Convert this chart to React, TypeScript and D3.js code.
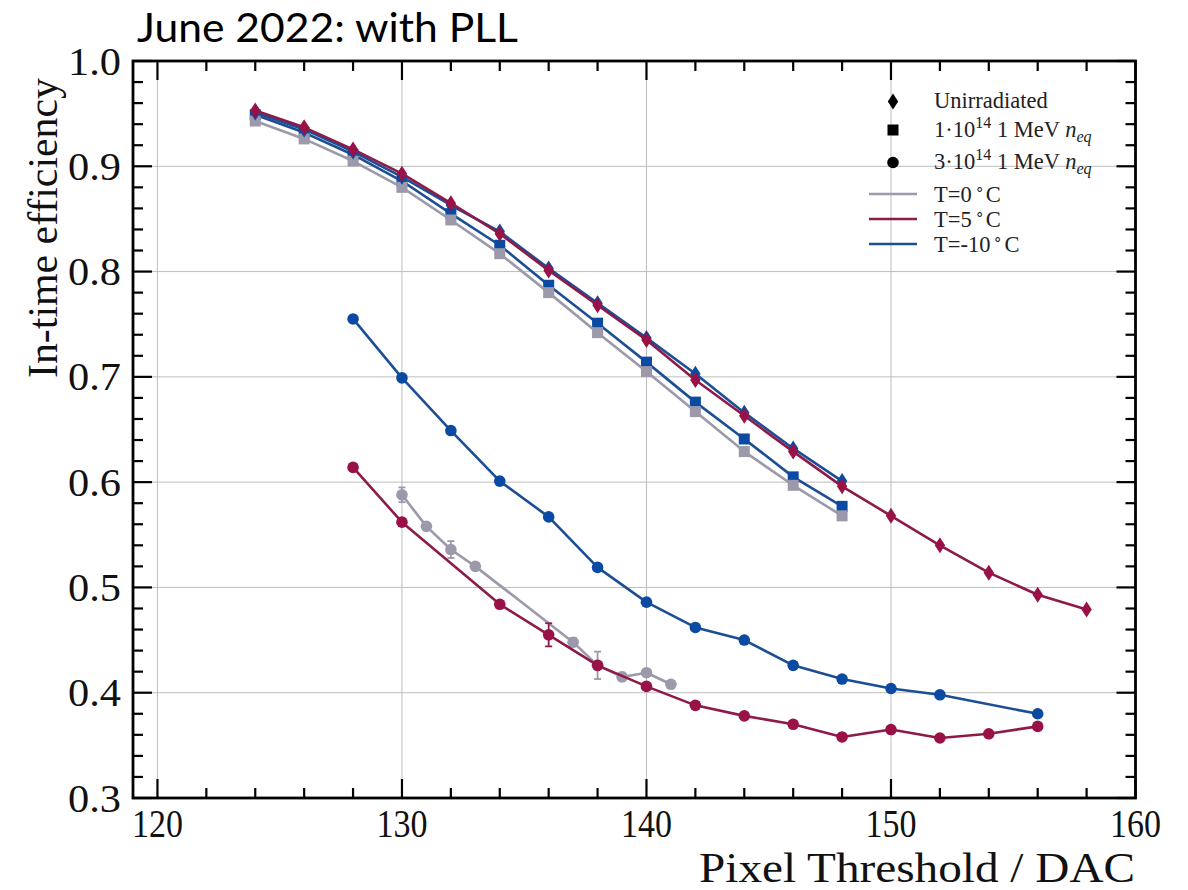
import React from "react";
import * as d3 from "d3";

const W = 1188;
const H = 890;

// ---- data ----
// Unirradiated (diamonds)
const unirr5X = [124, 126, 128, 130, 132, 134, 136, 138, 140, 142, 144, 146, 148, 150, 152, 154, 156, 158];
const unirr5Y = [0.953, 0.937, 0.916, 0.893, 0.865, 0.836, 0.801, 0.768, 0.735, 0.697, 0.663, 0.629, 0.596, 0.568, 0.540, 0.514, 0.493, 0.479];
const unirrM10X = [124, 126, 128, 130, 132, 134, 136, 138, 140, 142, 144, 146, 148];
const unirrM10Y = [0.951, 0.935, 0.914, 0.890, 0.863, 0.838, 0.803, 0.770, 0.737, 0.703, 0.666, 0.632, 0.601];

// 1e14 (squares)
const sqX = [124, 126, 128, 130, 132, 134, 136, 138, 140, 142, 144, 146, 148];
const sq0Y = [0.943, 0.926, 0.905, 0.880, 0.849, 0.817, 0.780, 0.742, 0.705, 0.667, 0.629, 0.597, 0.568];
const sqM10Y = [0.949, 0.932, 0.911, 0.886, 0.855, 0.825, 0.787, 0.751, 0.714, 0.676, 0.641, 0.605, 0.577];

// 3e14 (circles)
const c0X = [130, 131, 132, 133, 137, 138, 139, 140, 141];
const c0Y = [0.588, 0.558, 0.536, 0.520, 0.448, 0.426, 0.415, 0.419, 0.408];
const c0Err = [0.007, 0.002, 0.008, 0.002, 0.004, 0.013, 0.004, 0.002, 0.002];
const c5X = [128, 130, 134, 136, 138, 140, 142, 144, 146, 148, 150, 152, 154, 156];
const c5Y = [0.614, 0.562, 0.484, 0.455, 0.426, 0.406, 0.388, 0.378, 0.370, 0.358, 0.365, 0.357, 0.361, 0.368];
const c5Err = [0.002, 0.002, 0.002, 0.011, 0.002, 0.002, 0.001, 0.001, 0.001, 0.001, 0.001, 0.001, 0.001, 0.001];
const cM10X = [128, 130, 132, 134, 136, 138, 140, 142, 144, 146, 148, 150, 152, 156];
const cM10Y = [0.755, 0.699, 0.649, 0.601, 0.567, 0.519, 0.486, 0.462, 0.450, 0.426, 0.413, 0.404, 0.398, 0.380];

const xTicks = [120, 130, 140, 150, 160];
const yTicks = [0.3, 0.4, 0.5, 0.6, 0.7, 0.8, 0.9, 1.0];

const GRAY = "#9b99aa";
const RED = "#8e1a4a";
const RED_M = "#981247";
const BLUE = "#1b4e94";
const BLUE_M = "#0b4aa2";

const x = d3.scaleLinear().domain([119, 160]).range([133, 1135.5]);
const y = d3.scaleLinear().domain([0.3, 1.0]).range([798, 61]);

type Marker = "diamond" | "square" | "circle";

function MarkerShape({ kind, cx, cy, fill }: { kind: Marker; cx: number; cy: number; fill: string }) {
  if (kind === "circle") return <circle cx={cx} cy={cy} r={5.8} fill={fill} />;
  if (kind === "square") return <rect x={cx - 5.5} y={cy - 5.5} width={11} height={11} fill={fill} />;
  return <path d={`M${cx},${cy - 8} L${cx + 5.2},${cy} L${cx},${cy + 8} L${cx - 5.2},${cy} Z`} fill={fill} />;
}

function Series({ xs, ys, errs, kind, line, mark }: { xs: number[]; ys: number[]; errs?: number[]; kind: Marker; line: string; mark: string }) {
  const pts = xs.map((xv, i) => [xv, ys[i]] as [number, number]);
  const gen = d3.line<[number, number]>().x((d) => x(d[0])).y((d) => y(d[1]));
  return (
    <g>
      <path d={gen(pts) || ""} fill="none" stroke={line} strokeWidth={2.6} strokeLinejoin="round" />
      {errs &&
        pts.map((p, i) =>
          errs[i] > 0.003 ? (
            <g key={"e" + i} stroke={line} strokeWidth={1.8}>
              <line x1={x(p[0])} x2={x(p[0])} y1={y(p[1] - errs[i])} y2={y(p[1] + errs[i])} />
              <line x1={x(p[0]) - 3.5} x2={x(p[0]) + 3.5} y1={y(p[1] - errs[i])} y2={y(p[1] - errs[i])} />
              <line x1={x(p[0]) - 3.5} x2={x(p[0]) + 3.5} y1={y(p[1] + errs[i])} y2={y(p[1] + errs[i])} />
            </g>
          ) : null
        )}
      {pts.map((p, i) => (
        <MarkerShape key={i} kind={kind} cx={x(p[0])} cy={y(p[1])} fill={mark} />
      ))}
    </g>
  );
}

export default function App() {
  const [x0, x1] = x.range();
  const [y0, y1] = y.range();
  const xMinor = d3.range(120, 160.01, 2);
  const yMinor = d3.range(0.3, 1.0001, 0.02);
  const serif = "'Liberation Serif', 'Times New Roman', serif";
  const legX = 893;
  const legTX = 934;
  const legendText = { fontFamily: serif, fontSize: 22.5, fill: "#222" };
  return (
    <svg width={W} height={H} style={{ position: "absolute", left: 0, top: 0, background: "#fff" }}>
      <rect width={W} height={H} fill="#fff" />
      {/* grid */}
      <g stroke="#bdbdbd" strokeWidth={1}>
        {xTicks.map((t) => (
          <line key={"gx" + t} x1={x(t)} x2={x(t)} y1={y1} y2={y0} />
        ))}
        {yTicks.map((t) => (
          <line key={"gy" + t} x1={x0} x2={x1} y1={y(t)} y2={y(t)} />
        ))}
      </g>

      {/* series */}
      <Series xs={c0X} ys={c0Y} errs={c0Err} kind="circle" line={GRAY} mark={GRAY} />
      <Series xs={c5X} ys={c5Y} errs={c5Err} kind="circle" line={RED} mark={RED_M} />
      <Series xs={cM10X} ys={cM10Y} kind="circle" line={BLUE} mark={BLUE_M} />
      <Series xs={sqX} ys={sqM10Y} kind="square" line={BLUE} mark={BLUE_M} />
      <Series xs={sqX} ys={sq0Y} kind="square" line={GRAY} mark={GRAY} />
      <Series xs={unirrM10X} ys={unirrM10Y} kind="diamond" line={BLUE} mark={BLUE_M} />
      <Series xs={unirr5X} ys={unirr5Y} kind="diamond" line={RED} mark={RED_M} />

      {/* ticks */}
      <g stroke="#000" strokeWidth={2.2}>
        {xMinor.map((t) => {
          const major = xTicks.some((m) => Math.abs(m - t) < 1e-6);
          const L = major ? 19 : 10;
          return (
            <g key={"tx" + t}>
              <line x1={x(t)} x2={x(t)} y1={y0} y2={y0 - L} />
              <line x1={x(t)} x2={x(t)} y1={y1} y2={y1 + L} />
            </g>
          );
        })}
        {yMinor.map((t) => {
          const major = yTicks.some((m) => Math.abs(m - t) < 1e-6);
          const L = major ? 19 : 10;
          return (
            <g key={"ty" + t.toFixed(2)}>
              <line x1={x0} x2={x0 + L} y1={y(t)} y2={y(t)} />
              <line x1={x1} x2={x1 - L} y1={y(t)} y2={y(t)} />
            </g>
          );
        })}
      </g>
      <rect x={x0} y={y1} width={x1 - x0} height={y0 - y1} fill="none" stroke="#000" strokeWidth={2.8} />

      {/* tick labels */}
      <g fontFamily={serif} fontSize={40} fill="#111">
        {xTicks.map((t) => (
          <text key={"lx" + t} x={x(t)} y={837} textAnchor="middle" textLength={51} lengthAdjust="spacingAndGlyphs">
            {t}
          </text>
        ))}
        {yTicks.map((t) => (
          <text key={"ly" + t} x={121} y={y(t)} dy="0.34em" textAnchor="end" textLength={53} lengthAdjust="spacingAndGlyphs">
            {t.toFixed(1)}
          </text>
        ))}
      </g>

      {/* axis labels */}
      <text x={1135} y={882} textAnchor="end" fontFamily={serif} fontSize={42} fill="#111" textLength={436} lengthAdjust="spacingAndGlyphs">
        Pixel Threshold / DAC
      </text>
      <text
        transform="translate(57,228) rotate(-90)"
        textAnchor="middle"
        fontFamily={serif}
        fontSize={42}
        fill="#111"
        textLength={300}
        lengthAdjust="spacingAndGlyphs"
      >
        In-time efficiency
      </text>

      {/* title */}
      <text x={137} y={42} fontFamily="Lato, 'Open Sans', sans-serif" fontSize={40} fill="#000" textLength={381} lengthAdjust="spacingAndGlyphs">
        June 2022: with PLL
      </text>

      {/* legend */}
      <g>
        <MarkerShape kind="diamond" cx={legX} cy={101.5} fill="#000" />
        <MarkerShape kind="square" cx={legX} cy={130} fill="#000" />
        <MarkerShape kind="circle" cx={legX} cy={162.5} fill="#000" />
        <line x1={869} x2={917} y1={194} y2={194} stroke={GRAY} strokeWidth={2.6} />
        <line x1={869} x2={917} y1={219} y2={219} stroke={RED} strokeWidth={2.6} />
        <line x1={869} x2={917} y1={244} y2={244} stroke={BLUE} strokeWidth={2.6} />
        <text x={legTX} y={108} {...legendText}>Unirradiated</text>
        <text x={legTX} y={137} {...legendText}>
          1·10<tspan fontSize={16} dy={-9}>14</tspan>
          <tspan dy={9}> 1 MeV </tspan>
          <tspan fontStyle="italic">n</tspan>
          <tspan fontStyle="italic" fontSize={16} dy={5}>eq</tspan>
        </text>
        <text x={legTX} y={169} {...legendText}>
          3·10<tspan fontSize={16} dy={-9}>14</tspan>
          <tspan dy={9}> 1 MeV </tspan>
          <tspan fontStyle="italic">n</tspan>
          <tspan fontStyle="italic" fontSize={16} dy={5}>eq</tspan>
        </text>
        <text x={legTX} y={202} {...legendText}>
          T=0<tspan fontSize={15} dx={3} dy={-8}>∘</tspan>
          <tspan dx={2} dy={8}>C</tspan>
        </text>
        <text x={legTX} y={227} {...legendText}>
          T=5<tspan fontSize={15} dx={3} dy={-8}>∘</tspan>
          <tspan dx={2} dy={8}>C</tspan>
        </text>
        <text x={legTX} y={252} {...legendText}>
          T=-10<tspan fontSize={15} dx={3} dy={-8}>∘</tspan>
          <tspan dx={2} dy={8}>C</tspan>
        </text>
      </g>
    </svg>
  );
}
